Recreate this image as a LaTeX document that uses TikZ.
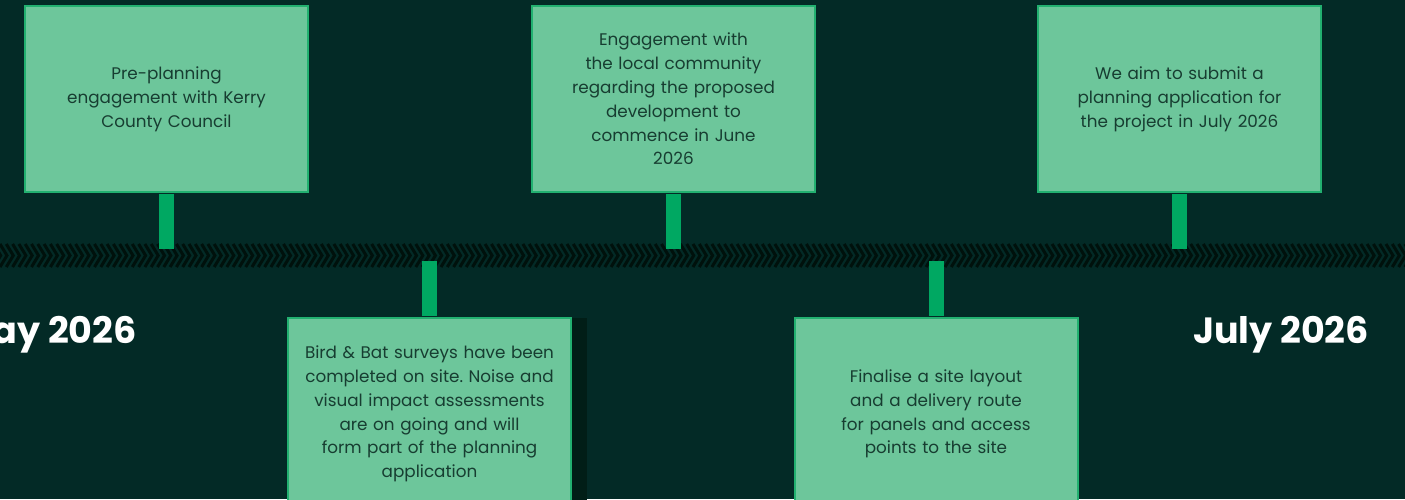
\documentclass[tikz,border=0pt]{standalone}
\usepackage{fontspec}
\setmainfont{Poppins}
\frenchspacing
\definecolor{bgc}{HTML}{032A26}
\definecolor{bandc}{HTML}{00110C}
\definecolor{boxfill}{HTML}{6DC69B}
\definecolor{boxline}{HTML}{22B070}
\definecolor{stemc}{HTML}{00A862}
\definecolor{txtc}{HTML}{173D31}
\definecolor{shadowc}{HTML}{011E17}
\tikzset{
  card/.style={draw=boxline, line width=2pt, fill=boxfill, minimum width=283pt,
    text width=270pt, align=center, text=txtc, inner sep=0pt,
    font=\fontsize{16.8}{23.8}\selectfont},
  topcard/.style={card, minimum height=186pt},
  botcard/.style={card, minimum height=192pt},
  stemline/.style={draw=stemc, line width=15pt},
  datelabel/.style={text=white, inner sep=0pt, font=\fontsize{36.5}{42}\selectfont\bfseries},
  chev/.style={draw=bandc, line width=3pt}
}
\begin{document}
\begin{tikzpicture}[x=1pt,y=-1pt]
\useasboundingbox (0,0) rectangle (1405,499);
\clip (0,0) rectangle (1405,499);
\fill[bgc] (0,0) rectangle (1405,499);
% band
\foreach \i in {-1,...,225} {
  \draw[chev] ({\i*6.3},244) -- ({\i*6.3+7},255.5) -- ({\i*6.3},267);
}
\coordinate (bandtop) at (0,249);
\coordinate (bandbot) at (0,261);
% shadow
\fill[shadowc] (571,318) rectangle (587,510);
% cards
\node[topcard] (b1) at (166.5,99) {Pre-planning\\engagement with Kerry\\County Council};
\node[topcard] (b2) at (673.5,99) {Engagement with\\the local community\\regarding the proposed\\development to\\commence in June\\2026};
\node[topcard] (b3) at (1179.5,99) {We aim to submit a\\planning application for\\the project in July 2026};
\node[botcard] (b4) at (429.5,414) {Bird \& Bat surveys have been\\completed on site. Noise and\\visual impact assessments\\are on going and will\\form part of the planning\\application};
\node[botcard] (b5) at (936,414) {Finalise a site layout\\and a delivery route\\for panels and access\\points to the site};
% stems
\draw[stemline] ([yshift=-1pt]b1.south) -- (b1.south |- bandtop);
\draw[stemline] ([yshift=-1pt]b2.south) -- (b2.south |- bandtop);
\draw[stemline] ([yshift=-1pt]b3.south) -- (b3.south |- bandtop);
\draw[stemline] ([yshift=1pt]b4.north) -- (b4.north |- bandbot);
\draw[stemline] ([yshift=1pt]b5.north) -- (b5.north |- bandbot);
% dates
\node[datelabel, anchor=east] (may) at (137,335) {May 2026};
\node[datelabel] (july) at (1281,335) {July 2026};
\end{tikzpicture}
\end{document}
